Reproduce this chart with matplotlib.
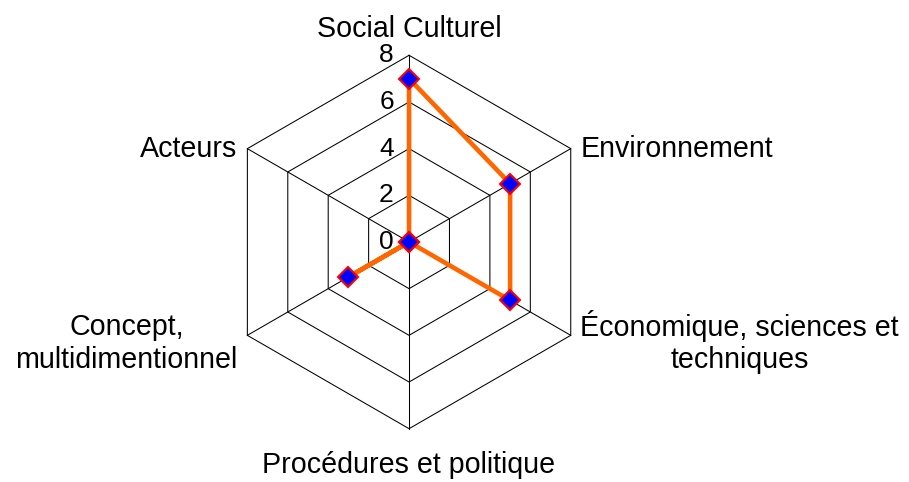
import numpy as np
import matplotlib
matplotlib.use('Agg')
import matplotlib.pyplot as plt

plt.rcParams['font.family'] = ['Liberation Sans', 'DejaVu Sans']

# data
categories = ['Social Culturel', 'Environnement', 'Économique, sciences et\ntechniques',
              'Procédures et politique', 'Concept,\nmultidimentionnel', 'Acteurs']
values = [7, 5, 5, 0, 3, 0]
rings = [2, 4, 6, 8]
tick_labels = ['0', '2', '4', '6', '8']

n = len(categories)
angles = np.linspace(0, 2 * np.pi, n, endpoint=False)
closed = np.append(angles, angles[0])

fig = plt.figure(figsize=(9.09, 4.82), dpi=100)
ax = fig.add_axes([0.2446, 0.1106, 0.4108, 0.7747], projection='polar')
ax.set_theta_offset(np.pi / 2)
ax.set_theta_direction(-1)
ax.set_ylim(0, 8)
ax.grid(False)
ax.spines['polar'].set_visible(False)
ax.set_xticks([])
ax.set_yticks([])
ax.patch.set_visible(False)

# hexagon grid
for r in rings:
    ax.plot(closed, [r] * (n + 1), color='black', lw=0.75, clip_on=False)
for a in angles:
    ax.plot([a, a], [0, 8], color='black', lw=0.75, clip_on=False)

# series (closed polygon)
vals = values + values[:1]
ax.plot(closed, vals, color='#FF6600', lw=3.3, clip_on=False, zorder=3)
ax.plot(angles, values, ls='none', marker='D', ms=10, mfc='#0000FF', mec='#FF0000',
        mew=1.5, clip_on=False, zorder=4)

# radial tick labels
for i, t in enumerate(tick_labels):
    ax.annotate(t, xy=(0, i * 2), xytext=(-11, 0), textcoords='offset points',
                ha='right', va='center', fontsize=19)

# category labels
offsets = [((0, 9), 'center', 'bottom'),
           ((7, 0), 'left', 'center'),
           ((7, -5), 'left', 'center'),
           ((0, -16), 'center', 'top'),
           ((-7, -6), 'right', 'center'),
           ((-7, 0), 'right', 'center')]
for a, lab, (off, ha, va) in zip(angles, categories, offsets):
    ax.annotate(lab, xy=(a, 8), xytext=off, textcoords='offset points',
                ha=ha, va=va, fontsize=20.6, multialignment='center')

fig.savefig('out.png', dpi=100)
